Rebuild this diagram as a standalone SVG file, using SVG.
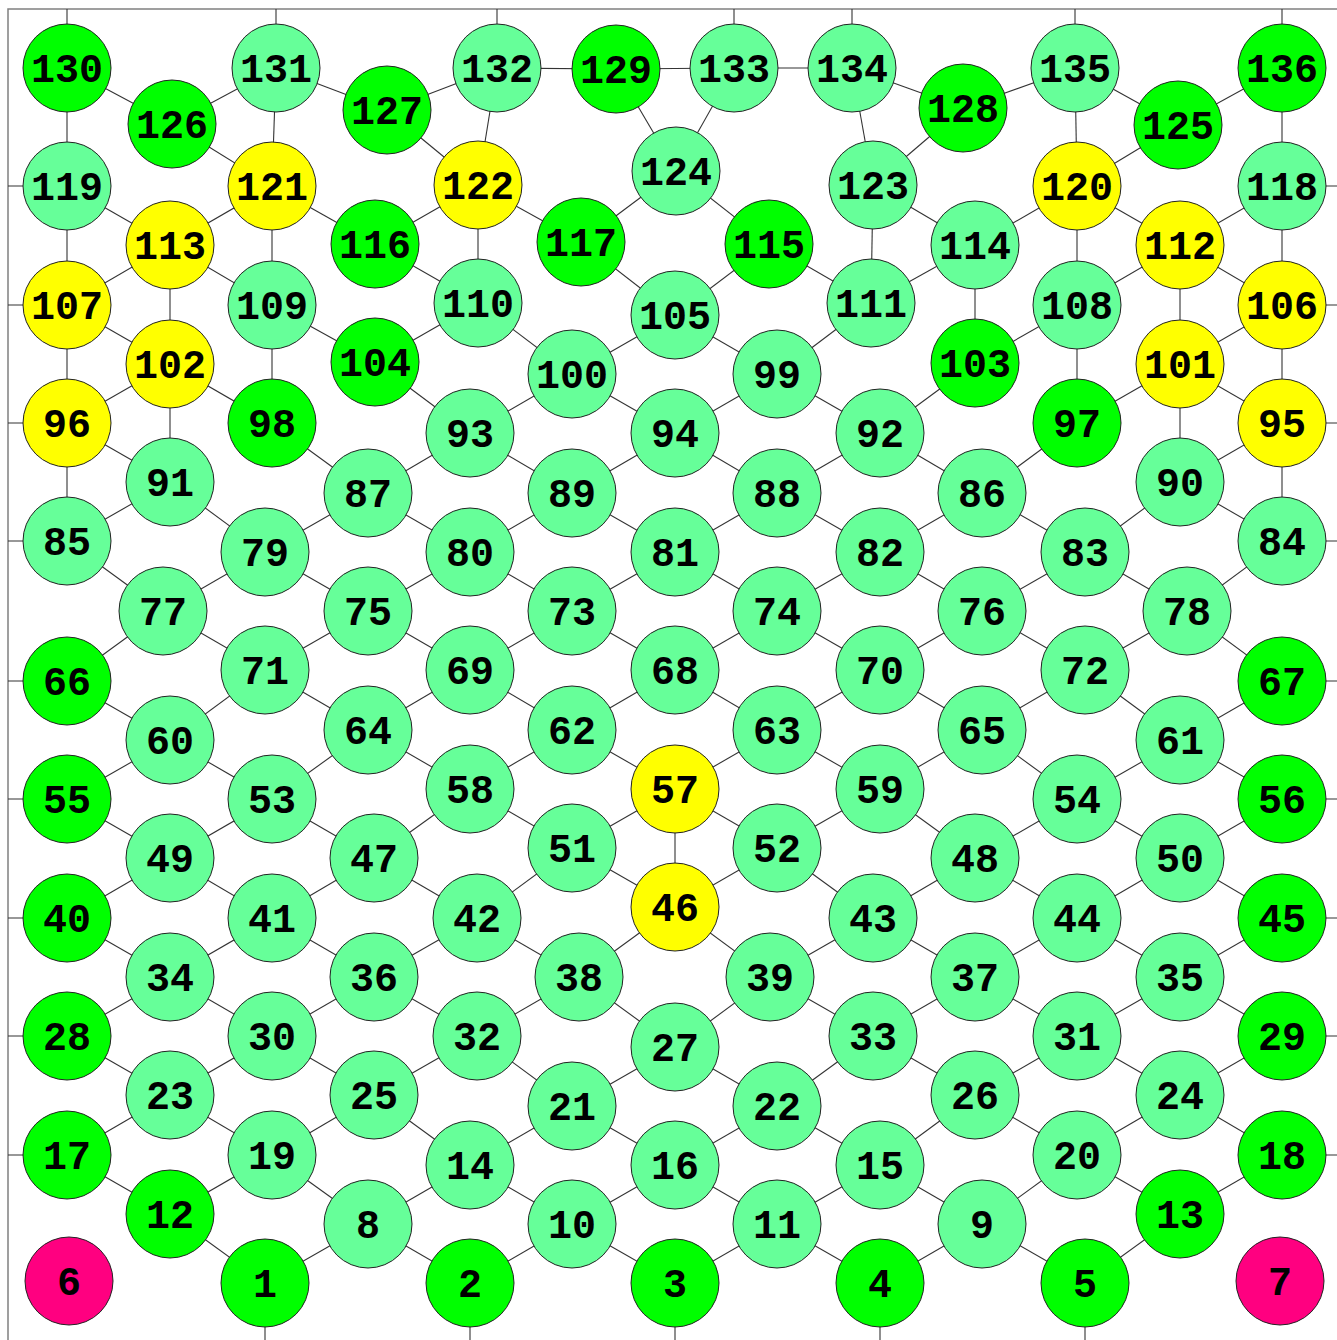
<svg xmlns="http://www.w3.org/2000/svg" width="1337" height="1340" viewBox="0 0 1337 1340">
<style>
.frame{stroke:#808080;stroke-width:1.5;fill:none}
.edges line{stroke:#333;stroke-width:1.1}
.node circle{stroke:#222;stroke-width:1}
.node text{font-family:"Liberation Mono","Courier New",monospace;font-weight:bold;font-size:40px;text-anchor:middle;fill:#000}
.g circle{fill:#00ff00}
.l circle{fill:#66ff99}
.y circle{fill:#ffff00}
.p circle{fill:#ff0080}
</style>
<rect width="1337" height="1340" fill="#fff"/>
<path class="frame" d="M8,1340 V9 H1337"/>
<g id="connectors" class="edges">
<line x1="67" y1="9" x2="67" y2="68"/><line x1="276" y1="9" x2="276" y2="68"/><line x1="497" y1="9" x2="497" y2="68"/><line x1="734" y1="9" x2="734" y2="68"/><line x1="852" y1="9" x2="852" y2="68"/><line x1="1075" y1="9" x2="1075" y2="68"/><line x1="1282" y1="9" x2="1282" y2="68"/>
<line x1="8" y1="186" x2="67" y2="186"/><line x1="8" y1="305" x2="67" y2="305"/><line x1="8" y1="423" x2="67" y2="423"/><line x1="8" y1="541" x2="67" y2="541"/><line x1="8" y1="681" x2="67" y2="681"/><line x1="8" y1="799" x2="67" y2="799"/><line x1="8" y1="918" x2="67" y2="918"/><line x1="8" y1="1036" x2="67" y2="1036"/><line x1="8" y1="1155" x2="67" y2="1155"/>
<line x1="1282" y1="186" x2="1340" y2="186"/><line x1="1282" y1="305" x2="1340" y2="305"/><line x1="1282" y1="423" x2="1340" y2="423"/><line x1="1282" y1="541" x2="1340" y2="541"/><line x1="1282" y1="681" x2="1340" y2="681"/><line x1="1282" y1="799" x2="1340" y2="799"/><line x1="1282" y1="918" x2="1340" y2="918"/><line x1="1282" y1="1036" x2="1340" y2="1036"/><line x1="1282" y1="1155" x2="1340" y2="1155"/>
<line x1="265" y1="1283" x2="265" y2="1340"/><line x1="470" y1="1283" x2="470" y2="1340"/><line x1="675" y1="1283" x2="675" y2="1340"/><line x1="880" y1="1283" x2="880" y2="1340"/><line x1="1085" y1="1283" x2="1085" y2="1340"/>
<line x1="67" y1="68" x2="172" y2="124"/><line x1="67" y1="68" x2="67" y2="186"/><line x1="276" y1="68" x2="172" y2="124"/><line x1="276" y1="68" x2="387" y2="110"/><line x1="276" y1="68" x2="272" y2="186"/><line x1="172" y1="124" x2="272" y2="186"/><line x1="387" y1="110" x2="497" y2="68"/><line x1="387" y1="110" x2="478" y2="185"/><line x1="497" y1="68" x2="616" y2="69"/><line x1="497" y1="68" x2="478" y2="185"/><line x1="616" y1="69" x2="734" y2="68"/><line x1="616" y1="69" x2="676" y2="171"/><line x1="734" y1="68" x2="852" y2="68"/><line x1="734" y1="68" x2="676" y2="171"/><line x1="852" y1="68" x2="963" y2="108"/><line x1="852" y1="68" x2="873" y2="185"/><line x1="963" y1="108" x2="1075" y2="68"/><line x1="963" y1="108" x2="873" y2="185"/><line x1="1075" y1="68" x2="1178" y2="125"/><line x1="1075" y1="68" x2="1077" y2="186"/><line x1="1282" y1="68" x2="1178" y2="125"/><line x1="1282" y1="68" x2="1282" y2="186"/><line x1="1178" y1="125" x2="1077" y2="186"/><line x1="676" y1="171" x2="581" y2="242"/><line x1="676" y1="171" x2="769" y2="244"/>
<line x1="67" y1="186" x2="170" y2="245"/><line x1="67" y1="186" x2="67" y2="305"/><line x1="272" y1="186" x2="170" y2="245"/><line x1="272" y1="186" x2="375" y2="244"/><line x1="272" y1="186" x2="272" y2="305"/><line x1="478" y1="185" x2="375" y2="244"/><line x1="478" y1="185" x2="581" y2="242"/><line x1="478" y1="185" x2="478" y2="303"/><line x1="873" y1="185" x2="975" y2="245"/><line x1="873" y1="185" x2="871" y2="303"/><line x1="1077" y1="186" x2="975" y2="245"/><line x1="1077" y1="186" x2="1180" y2="245"/><line x1="1077" y1="186" x2="1077" y2="305"/><line x1="1282" y1="186" x2="1180" y2="245"/><line x1="1282" y1="186" x2="1282" y2="305"/>
<line x1="170" y1="245" x2="67" y2="305"/><line x1="170" y1="245" x2="272" y2="305"/><line x1="170" y1="245" x2="170" y2="364"/><line x1="375" y1="244" x2="478" y2="303"/><line x1="581" y1="242" x2="675" y2="315"/><line x1="769" y1="244" x2="675" y2="315"/><line x1="769" y1="244" x2="871" y2="303"/><line x1="975" y1="245" x2="871" y2="303"/><line x1="975" y1="245" x2="975" y2="363"/><line x1="1180" y1="245" x2="1077" y2="305"/><line x1="1180" y1="245" x2="1282" y2="305"/><line x1="1180" y1="245" x2="1180" y2="364"/>
<line x1="67" y1="305" x2="170" y2="364"/><line x1="67" y1="305" x2="67" y2="423"/><line x1="272" y1="305" x2="375" y2="362"/><line x1="272" y1="305" x2="272" y2="423"/><line x1="478" y1="303" x2="375" y2="362"/><line x1="478" y1="303" x2="572" y2="374"/><line x1="675" y1="315" x2="572" y2="374"/><line x1="675" y1="315" x2="777" y2="374"/><line x1="871" y1="303" x2="777" y2="374"/><line x1="1077" y1="305" x2="975" y2="363"/><line x1="1077" y1="305" x2="1077" y2="423"/><line x1="1282" y1="305" x2="1180" y2="364"/><line x1="1282" y1="305" x2="1282" y2="423"/>
<line x1="170" y1="364" x2="67" y2="423"/><line x1="170" y1="364" x2="272" y2="423"/><line x1="170" y1="364" x2="170" y2="482"/><line x1="375" y1="362" x2="470" y2="433"/><line x1="572" y1="374" x2="470" y2="433"/><line x1="572" y1="374" x2="675" y2="433"/><line x1="777" y1="374" x2="675" y2="433"/><line x1="777" y1="374" x2="880" y2="433"/><line x1="975" y1="363" x2="880" y2="433"/><line x1="1180" y1="364" x2="1077" y2="423"/><line x1="1180" y1="364" x2="1282" y2="423"/><line x1="1180" y1="364" x2="1180" y2="482"/>
<line x1="67" y1="423" x2="170" y2="482"/><line x1="67" y1="423" x2="67" y2="541"/><line x1="272" y1="423" x2="368" y2="493"/><line x1="470" y1="433" x2="368" y2="493"/><line x1="470" y1="433" x2="572" y2="493"/><line x1="675" y1="433" x2="572" y2="493"/><line x1="675" y1="433" x2="777" y2="493"/><line x1="880" y1="433" x2="777" y2="493"/><line x1="880" y1="433" x2="982" y2="493"/><line x1="1077" y1="423" x2="982" y2="493"/><line x1="1282" y1="423" x2="1180" y2="482"/><line x1="1282" y1="423" x2="1282" y2="541"/>
<line x1="170" y1="482" x2="67" y2="541"/><line x1="170" y1="482" x2="265" y2="552"/><line x1="368" y1="493" x2="265" y2="552"/><line x1="368" y1="493" x2="470" y2="552"/><line x1="572" y1="493" x2="470" y2="552"/><line x1="572" y1="493" x2="675" y2="552"/><line x1="777" y1="493" x2="675" y2="552"/><line x1="777" y1="493" x2="880" y2="552"/><line x1="982" y1="493" x2="880" y2="552"/><line x1="982" y1="493" x2="1085" y2="552"/><line x1="1180" y1="482" x2="1085" y2="552"/><line x1="1180" y1="482" x2="1282" y2="541"/>
<line x1="67" y1="541" x2="163" y2="611"/><line x1="265" y1="552" x2="163" y2="611"/><line x1="265" y1="552" x2="368" y2="611"/><line x1="470" y1="552" x2="368" y2="611"/><line x1="470" y1="552" x2="572" y2="611"/><line x1="675" y1="552" x2="572" y2="611"/><line x1="675" y1="552" x2="777" y2="611"/><line x1="880" y1="552" x2="777" y2="611"/><line x1="880" y1="552" x2="982" y2="611"/><line x1="1085" y1="552" x2="982" y2="611"/><line x1="1085" y1="552" x2="1187" y2="611"/><line x1="1282" y1="541" x2="1187" y2="611"/>
<line x1="163" y1="611" x2="67" y2="681"/><line x1="163" y1="611" x2="265" y2="670"/><line x1="368" y1="611" x2="265" y2="670"/><line x1="368" y1="611" x2="470" y2="670"/><line x1="572" y1="611" x2="470" y2="670"/><line x1="572" y1="611" x2="675" y2="670"/><line x1="777" y1="611" x2="675" y2="670"/><line x1="777" y1="611" x2="880" y2="670"/><line x1="982" y1="611" x2="880" y2="670"/><line x1="982" y1="611" x2="1085" y2="670"/><line x1="1187" y1="611" x2="1085" y2="670"/><line x1="1187" y1="611" x2="1282" y2="681"/>
<line x1="67" y1="681" x2="170" y2="740"/><line x1="265" y1="670" x2="170" y2="740"/><line x1="265" y1="670" x2="368" y2="730"/><line x1="470" y1="670" x2="368" y2="730"/><line x1="470" y1="670" x2="572" y2="730"/><line x1="675" y1="670" x2="572" y2="730"/><line x1="675" y1="670" x2="777" y2="730"/><line x1="880" y1="670" x2="777" y2="730"/><line x1="880" y1="670" x2="982" y2="730"/><line x1="1085" y1="670" x2="982" y2="730"/><line x1="1085" y1="670" x2="1180" y2="740"/><line x1="1282" y1="681" x2="1180" y2="740"/>
<line x1="170" y1="740" x2="67" y2="799"/><line x1="170" y1="740" x2="272" y2="799"/><line x1="368" y1="730" x2="272" y2="799"/><line x1="368" y1="730" x2="470" y2="789"/><line x1="572" y1="730" x2="470" y2="789"/><line x1="572" y1="730" x2="675" y2="789"/><line x1="777" y1="730" x2="675" y2="789"/><line x1="777" y1="730" x2="880" y2="789"/><line x1="982" y1="730" x2="880" y2="789"/><line x1="982" y1="730" x2="1077" y2="799"/><line x1="1180" y1="740" x2="1077" y2="799"/><line x1="1180" y1="740" x2="1282" y2="799"/>
<line x1="67" y1="799" x2="170" y2="858"/><line x1="272" y1="799" x2="170" y2="858"/><line x1="272" y1="799" x2="374" y2="858"/><line x1="470" y1="789" x2="374" y2="858"/><line x1="470" y1="789" x2="572" y2="848"/><line x1="675" y1="789" x2="572" y2="848"/><line x1="675" y1="789" x2="675" y2="907"/><line x1="675" y1="789" x2="777" y2="848"/><line x1="880" y1="789" x2="777" y2="848"/><line x1="880" y1="789" x2="975" y2="858"/><line x1="1077" y1="799" x2="975" y2="858"/><line x1="1077" y1="799" x2="1180" y2="858"/><line x1="1282" y1="799" x2="1180" y2="858"/>
<line x1="170" y1="858" x2="67" y2="918"/><line x1="170" y1="858" x2="272" y2="918"/><line x1="374" y1="858" x2="272" y2="918"/><line x1="374" y1="858" x2="477" y2="918"/><line x1="572" y1="848" x2="477" y2="918"/><line x1="572" y1="848" x2="675" y2="907"/><line x1="675" y1="907" x2="777" y2="848"/><line x1="777" y1="848" x2="873" y2="918"/><line x1="975" y1="858" x2="873" y2="918"/><line x1="975" y1="858" x2="1077" y2="918"/><line x1="1180" y1="858" x2="1077" y2="918"/><line x1="1180" y1="858" x2="1282" y2="918"/>
<line x1="67" y1="918" x2="170" y2="977"/><line x1="272" y1="918" x2="170" y2="977"/><line x1="272" y1="918" x2="374" y2="977"/><line x1="477" y1="918" x2="374" y2="977"/><line x1="477" y1="918" x2="579" y2="977"/><line x1="675" y1="907" x2="579" y2="977"/><line x1="675" y1="907" x2="770" y2="977"/><line x1="873" y1="918" x2="770" y2="977"/><line x1="873" y1="918" x2="975" y2="977"/><line x1="1077" y1="918" x2="975" y2="977"/><line x1="1077" y1="918" x2="1180" y2="977"/><line x1="1282" y1="918" x2="1180" y2="977"/>
<line x1="170" y1="977" x2="67" y2="1036"/><line x1="170" y1="977" x2="272" y2="1036"/><line x1="374" y1="977" x2="272" y2="1036"/><line x1="374" y1="977" x2="477" y2="1036"/><line x1="579" y1="977" x2="477" y2="1036"/><line x1="579" y1="977" x2="675" y2="1047"/><line x1="770" y1="977" x2="675" y2="1047"/><line x1="770" y1="977" x2="873" y2="1036"/><line x1="975" y1="977" x2="873" y2="1036"/><line x1="975" y1="977" x2="1077" y2="1036"/><line x1="1180" y1="977" x2="1077" y2="1036"/><line x1="1180" y1="977" x2="1282" y2="1036"/>
<line x1="67" y1="1036" x2="170" y2="1095"/><line x1="272" y1="1036" x2="170" y2="1095"/><line x1="272" y1="1036" x2="374" y2="1095"/><line x1="477" y1="1036" x2="374" y2="1095"/><line x1="477" y1="1036" x2="572" y2="1106"/><line x1="675" y1="1047" x2="572" y2="1106"/><line x1="675" y1="1047" x2="777" y2="1106"/><line x1="873" y1="1036" x2="777" y2="1106"/><line x1="873" y1="1036" x2="975" y2="1095"/><line x1="1077" y1="1036" x2="975" y2="1095"/><line x1="1077" y1="1036" x2="1180" y2="1095"/><line x1="1282" y1="1036" x2="1180" y2="1095"/>
<line x1="170" y1="1095" x2="67" y2="1155"/><line x1="170" y1="1095" x2="272" y2="1155"/><line x1="374" y1="1095" x2="272" y2="1155"/><line x1="374" y1="1095" x2="470" y2="1165"/><line x1="572" y1="1106" x2="470" y2="1165"/><line x1="572" y1="1106" x2="675" y2="1165"/><line x1="777" y1="1106" x2="675" y2="1165"/><line x1="777" y1="1106" x2="880" y2="1165"/><line x1="975" y1="1095" x2="880" y2="1165"/><line x1="975" y1="1095" x2="1077" y2="1155"/><line x1="1180" y1="1095" x2="1077" y2="1155"/><line x1="1180" y1="1095" x2="1282" y2="1155"/>
<line x1="67" y1="1155" x2="170" y2="1214"/><line x1="272" y1="1155" x2="170" y2="1214"/><line x1="272" y1="1155" x2="368" y2="1224"/><line x1="470" y1="1165" x2="368" y2="1224"/><line x1="470" y1="1165" x2="572" y2="1224"/><line x1="675" y1="1165" x2="572" y2="1224"/><line x1="675" y1="1165" x2="777" y2="1224"/><line x1="880" y1="1165" x2="777" y2="1224"/><line x1="880" y1="1165" x2="982" y2="1224"/><line x1="1077" y1="1155" x2="982" y2="1224"/><line x1="1077" y1="1155" x2="1180" y2="1214"/><line x1="1282" y1="1155" x2="1180" y2="1214"/>
<line x1="170" y1="1214" x2="265" y2="1283"/><line x1="368" y1="1224" x2="265" y2="1283"/><line x1="368" y1="1224" x2="470" y2="1283"/><line x1="572" y1="1224" x2="470" y2="1283"/><line x1="572" y1="1224" x2="675" y2="1283"/><line x1="777" y1="1224" x2="675" y2="1283"/><line x1="777" y1="1224" x2="880" y2="1283"/><line x1="982" y1="1224" x2="880" y2="1283"/><line x1="982" y1="1224" x2="1085" y2="1283"/><line x1="1180" y1="1214" x2="1085" y2="1283"/>
</g>
<g id="nodes">
<g id="n1" class="node g"><circle cx="265" cy="1283" r="44"/><text x="265" y="1297">1</text></g>
<g id="n2" class="node g"><circle cx="470" cy="1283" r="44"/><text x="470" y="1297">2</text></g>
<g id="n3" class="node g"><circle cx="675" cy="1283" r="44"/><text x="675" y="1297">3</text></g>
<g id="n4" class="node g"><circle cx="880" cy="1283" r="44"/><text x="880" y="1297">4</text></g>
<g id="n5" class="node g"><circle cx="1085" cy="1283" r="44"/><text x="1085" y="1297">5</text></g>
<g id="n6" class="node p"><circle cx="69" cy="1281" r="44"/><text x="69" y="1295">6</text></g>
<g id="n7" class="node p"><circle cx="1280" cy="1281" r="44"/><text x="1280" y="1295">7</text></g>
<g id="n8" class="node l"><circle cx="368" cy="1224" r="44"/><text x="368" y="1238">8</text></g>
<g id="n9" class="node l"><circle cx="982" cy="1224" r="44"/><text x="982" y="1238">9</text></g>
<g id="n10" class="node l"><circle cx="572" cy="1224" r="44"/><text x="572" y="1238">10</text></g>
<g id="n11" class="node l"><circle cx="777" cy="1224" r="44"/><text x="777" y="1238">11</text></g>
<g id="n12" class="node g"><circle cx="170" cy="1214" r="44"/><text x="170" y="1228">12</text></g>
<g id="n13" class="node g"><circle cx="1180" cy="1214" r="44"/><text x="1180" y="1228">13</text></g>
<g id="n14" class="node l"><circle cx="470" cy="1165" r="44"/><text x="470" y="1179">14</text></g>
<g id="n15" class="node l"><circle cx="880" cy="1165" r="44"/><text x="880" y="1179">15</text></g>
<g id="n16" class="node l"><circle cx="675" cy="1165" r="44"/><text x="675" y="1179">16</text></g>
<g id="n17" class="node g"><circle cx="67" cy="1155" r="44"/><text x="67" y="1169">17</text></g>
<g id="n18" class="node g"><circle cx="1282" cy="1155" r="44"/><text x="1282" y="1169">18</text></g>
<g id="n19" class="node l"><circle cx="272" cy="1155" r="44"/><text x="272" y="1169">19</text></g>
<g id="n20" class="node l"><circle cx="1077" cy="1155" r="44"/><text x="1077" y="1169">20</text></g>
<g id="n21" class="node l"><circle cx="572" cy="1106" r="44"/><text x="572" y="1120">21</text></g>
<g id="n22" class="node l"><circle cx="777" cy="1106" r="44"/><text x="777" y="1120">22</text></g>
<g id="n23" class="node l"><circle cx="170" cy="1095" r="44"/><text x="170" y="1109">23</text></g>
<g id="n24" class="node l"><circle cx="1180" cy="1095" r="44"/><text x="1180" y="1109">24</text></g>
<g id="n25" class="node l"><circle cx="374" cy="1095" r="44"/><text x="374" y="1109">25</text></g>
<g id="n26" class="node l"><circle cx="975" cy="1095" r="44"/><text x="975" y="1109">26</text></g>
<g id="n27" class="node l"><circle cx="675" cy="1047" r="44"/><text x="675" y="1061">27</text></g>
<g id="n28" class="node g"><circle cx="67" cy="1036" r="44"/><text x="67" y="1050">28</text></g>
<g id="n29" class="node g"><circle cx="1282" cy="1036" r="44"/><text x="1282" y="1050">29</text></g>
<g id="n30" class="node l"><circle cx="272" cy="1036" r="44"/><text x="272" y="1050">30</text></g>
<g id="n31" class="node l"><circle cx="1077" cy="1036" r="44"/><text x="1077" y="1050">31</text></g>
<g id="n32" class="node l"><circle cx="477" cy="1036" r="44"/><text x="477" y="1050">32</text></g>
<g id="n33" class="node l"><circle cx="873" cy="1036" r="44"/><text x="873" y="1050">33</text></g>
<g id="n34" class="node l"><circle cx="170" cy="977" r="44"/><text x="170" y="991">34</text></g>
<g id="n35" class="node l"><circle cx="1180" cy="977" r="44"/><text x="1180" y="991">35</text></g>
<g id="n36" class="node l"><circle cx="374" cy="977" r="44"/><text x="374" y="991">36</text></g>
<g id="n37" class="node l"><circle cx="975" cy="977" r="44"/><text x="975" y="991">37</text></g>
<g id="n38" class="node l"><circle cx="579" cy="977" r="44"/><text x="579" y="991">38</text></g>
<g id="n39" class="node l"><circle cx="770" cy="977" r="44"/><text x="770" y="991">39</text></g>
<g id="n40" class="node g"><circle cx="67" cy="918" r="44"/><text x="67" y="932">40</text></g>
<g id="n41" class="node l"><circle cx="272" cy="918" r="44"/><text x="272" y="932">41</text></g>
<g id="n42" class="node l"><circle cx="477" cy="918" r="44"/><text x="477" y="932">42</text></g>
<g id="n43" class="node l"><circle cx="873" cy="918" r="44"/><text x="873" y="932">43</text></g>
<g id="n44" class="node l"><circle cx="1077" cy="918" r="44"/><text x="1077" y="932">44</text></g>
<g id="n45" class="node g"><circle cx="1282" cy="918" r="44"/><text x="1282" y="932">45</text></g>
<g id="n46" class="node y"><circle cx="675" cy="907" r="44"/><text x="675" y="921">46</text></g>
<g id="n47" class="node l"><circle cx="374" cy="858" r="44"/><text x="374" y="872">47</text></g>
<g id="n48" class="node l"><circle cx="975" cy="858" r="44"/><text x="975" y="872">48</text></g>
<g id="n49" class="node l"><circle cx="170" cy="858" r="44"/><text x="170" y="872">49</text></g>
<g id="n50" class="node l"><circle cx="1180" cy="858" r="44"/><text x="1180" y="872">50</text></g>
<g id="n51" class="node l"><circle cx="572" cy="848" r="44"/><text x="572" y="862">51</text></g>
<g id="n52" class="node l"><circle cx="777" cy="848" r="44"/><text x="777" y="862">52</text></g>
<g id="n53" class="node l"><circle cx="272" cy="799" r="44"/><text x="272" y="813">53</text></g>
<g id="n54" class="node l"><circle cx="1077" cy="799" r="44"/><text x="1077" y="813">54</text></g>
<g id="n55" class="node g"><circle cx="67" cy="799" r="44"/><text x="67" y="813">55</text></g>
<g id="n56" class="node g"><circle cx="1282" cy="799" r="44"/><text x="1282" y="813">56</text></g>
<g id="n57" class="node y"><circle cx="675" cy="789" r="44"/><text x="675" y="803">57</text></g>
<g id="n58" class="node l"><circle cx="470" cy="789" r="44"/><text x="470" y="803">58</text></g>
<g id="n59" class="node l"><circle cx="880" cy="789" r="44"/><text x="880" y="803">59</text></g>
<g id="n60" class="node l"><circle cx="170" cy="740" r="44"/><text x="170" y="754">60</text></g>
<g id="n61" class="node l"><circle cx="1180" cy="740" r="44"/><text x="1180" y="754">61</text></g>
<g id="n62" class="node l"><circle cx="572" cy="730" r="44"/><text x="572" y="744">62</text></g>
<g id="n63" class="node l"><circle cx="777" cy="730" r="44"/><text x="777" y="744">63</text></g>
<g id="n64" class="node l"><circle cx="368" cy="730" r="44"/><text x="368" y="744">64</text></g>
<g id="n65" class="node l"><circle cx="982" cy="730" r="44"/><text x="982" y="744">65</text></g>
<g id="n66" class="node g"><circle cx="67" cy="681" r="44"/><text x="67" y="695">66</text></g>
<g id="n67" class="node g"><circle cx="1282" cy="681" r="44"/><text x="1282" y="695">67</text></g>
<g id="n68" class="node l"><circle cx="675" cy="670" r="44"/><text x="675" y="684">68</text></g>
<g id="n69" class="node l"><circle cx="470" cy="670" r="44"/><text x="470" y="684">69</text></g>
<g id="n70" class="node l"><circle cx="880" cy="670" r="44"/><text x="880" y="684">70</text></g>
<g id="n71" class="node l"><circle cx="265" cy="670" r="44"/><text x="265" y="684">71</text></g>
<g id="n72" class="node l"><circle cx="1085" cy="670" r="44"/><text x="1085" y="684">72</text></g>
<g id="n73" class="node l"><circle cx="572" cy="611" r="44"/><text x="572" y="625">73</text></g>
<g id="n74" class="node l"><circle cx="777" cy="611" r="44"/><text x="777" y="625">74</text></g>
<g id="n75" class="node l"><circle cx="368" cy="611" r="44"/><text x="368" y="625">75</text></g>
<g id="n76" class="node l"><circle cx="982" cy="611" r="44"/><text x="982" y="625">76</text></g>
<g id="n77" class="node l"><circle cx="163" cy="611" r="44"/><text x="163" y="625">77</text></g>
<g id="n78" class="node l"><circle cx="1187" cy="611" r="44"/><text x="1187" y="625">78</text></g>
<g id="n79" class="node l"><circle cx="265" cy="552" r="44"/><text x="265" y="566">79</text></g>
<g id="n80" class="node l"><circle cx="470" cy="552" r="44"/><text x="470" y="566">80</text></g>
<g id="n81" class="node l"><circle cx="675" cy="552" r="44"/><text x="675" y="566">81</text></g>
<g id="n82" class="node l"><circle cx="880" cy="552" r="44"/><text x="880" y="566">82</text></g>
<g id="n83" class="node l"><circle cx="1085" cy="552" r="44"/><text x="1085" y="566">83</text></g>
<g id="n84" class="node l"><circle cx="1282" cy="541" r="44"/><text x="1282" y="555">84</text></g>
<g id="n85" class="node l"><circle cx="67" cy="541" r="44"/><text x="67" y="555">85</text></g>
<g id="n86" class="node l"><circle cx="982" cy="493" r="44"/><text x="982" y="507">86</text></g>
<g id="n87" class="node l"><circle cx="368" cy="493" r="44"/><text x="368" y="507">87</text></g>
<g id="n88" class="node l"><circle cx="777" cy="493" r="44"/><text x="777" y="507">88</text></g>
<g id="n89" class="node l"><circle cx="572" cy="493" r="44"/><text x="572" y="507">89</text></g>
<g id="n90" class="node l"><circle cx="1180" cy="482" r="44"/><text x="1180" y="496">90</text></g>
<g id="n91" class="node l"><circle cx="170" cy="482" r="44"/><text x="170" y="496">91</text></g>
<g id="n92" class="node l"><circle cx="880" cy="433" r="44"/><text x="880" y="447">92</text></g>
<g id="n93" class="node l"><circle cx="470" cy="433" r="44"/><text x="470" y="447">93</text></g>
<g id="n94" class="node l"><circle cx="675" cy="433" r="44"/><text x="675" y="447">94</text></g>
<g id="n95" class="node y"><circle cx="1282" cy="423" r="44"/><text x="1282" y="437">95</text></g>
<g id="n96" class="node y"><circle cx="67" cy="423" r="44"/><text x="67" y="437">96</text></g>
<g id="n97" class="node g"><circle cx="1077" cy="423" r="44"/><text x="1077" y="437">97</text></g>
<g id="n98" class="node g"><circle cx="272" cy="423" r="44"/><text x="272" y="437">98</text></g>
<g id="n99" class="node l"><circle cx="777" cy="374" r="44"/><text x="777" y="388">99</text></g>
<g id="n100" class="node l"><circle cx="572" cy="374" r="44"/><text x="572" y="388">100</text></g>
<g id="n101" class="node y"><circle cx="1180" cy="364" r="44"/><text x="1180" y="378">101</text></g>
<g id="n102" class="node y"><circle cx="170" cy="364" r="44"/><text x="170" y="378">102</text></g>
<g id="n103" class="node g"><circle cx="975" cy="363" r="44"/><text x="975" y="377">103</text></g>
<g id="n104" class="node g"><circle cx="375" cy="362" r="44"/><text x="375" y="376">104</text></g>
<g id="n105" class="node l"><circle cx="675" cy="315" r="44"/><text x="675" y="329">105</text></g>
<g id="n106" class="node y"><circle cx="1282" cy="305" r="44"/><text x="1282" y="319">106</text></g>
<g id="n107" class="node y"><circle cx="67" cy="305" r="44"/><text x="67" y="319">107</text></g>
<g id="n108" class="node l"><circle cx="1077" cy="305" r="44"/><text x="1077" y="319">108</text></g>
<g id="n109" class="node l"><circle cx="272" cy="305" r="44"/><text x="272" y="319">109</text></g>
<g id="n110" class="node l"><circle cx="478" cy="303" r="44"/><text x="478" y="317">110</text></g>
<g id="n111" class="node l"><circle cx="871" cy="303" r="44"/><text x="871" y="317">111</text></g>
<g id="n112" class="node y"><circle cx="1180" cy="245" r="44"/><text x="1180" y="259">112</text></g>
<g id="n113" class="node y"><circle cx="170" cy="245" r="44"/><text x="170" y="259">113</text></g>
<g id="n114" class="node l"><circle cx="975" cy="245" r="44"/><text x="975" y="259">114</text></g>
<g id="n115" class="node g"><circle cx="769" cy="244" r="44"/><text x="769" y="258">115</text></g>
<g id="n116" class="node g"><circle cx="375" cy="244" r="44"/><text x="375" y="258">116</text></g>
<g id="n117" class="node g"><circle cx="581" cy="242" r="44"/><text x="581" y="256">117</text></g>
<g id="n118" class="node l"><circle cx="1282" cy="186" r="44"/><text x="1282" y="200">118</text></g>
<g id="n119" class="node l"><circle cx="67" cy="186" r="44"/><text x="67" y="200">119</text></g>
<g id="n120" class="node y"><circle cx="1077" cy="186" r="44"/><text x="1077" y="200">120</text></g>
<g id="n121" class="node y"><circle cx="272" cy="186" r="44"/><text x="272" y="200">121</text></g>
<g id="n122" class="node y"><circle cx="478" cy="185" r="44"/><text x="478" y="199">122</text></g>
<g id="n123" class="node l"><circle cx="873" cy="185" r="44"/><text x="873" y="199">123</text></g>
<g id="n124" class="node l"><circle cx="676" cy="171" r="44"/><text x="676" y="185">124</text></g>
<g id="n125" class="node g"><circle cx="1178" cy="125" r="44"/><text x="1178" y="139">125</text></g>
<g id="n126" class="node g"><circle cx="172" cy="124" r="44"/><text x="172" y="138">126</text></g>
<g id="n127" class="node g"><circle cx="387" cy="110" r="44"/><text x="387" y="124">127</text></g>
<g id="n128" class="node g"><circle cx="963" cy="108" r="44"/><text x="963" y="122">128</text></g>
<g id="n129" class="node g"><circle cx="616" cy="69" r="44"/><text x="616" y="83">129</text></g>
<g id="n130" class="node g"><circle cx="67" cy="68" r="44"/><text x="67" y="82">130</text></g>
<g id="n131" class="node l"><circle cx="276" cy="68" r="44"/><text x="276" y="82">131</text></g>
<g id="n132" class="node l"><circle cx="497" cy="68" r="44"/><text x="497" y="82">132</text></g>
<g id="n133" class="node l"><circle cx="734" cy="68" r="44"/><text x="734" y="82">133</text></g>
<g id="n134" class="node l"><circle cx="852" cy="68" r="44"/><text x="852" y="82">134</text></g>
<g id="n135" class="node l"><circle cx="1075" cy="68" r="44"/><text x="1075" y="82">135</text></g>
<g id="n136" class="node g"><circle cx="1282" cy="68" r="44"/><text x="1282" y="82">136</text></g>
</g>
</svg>
